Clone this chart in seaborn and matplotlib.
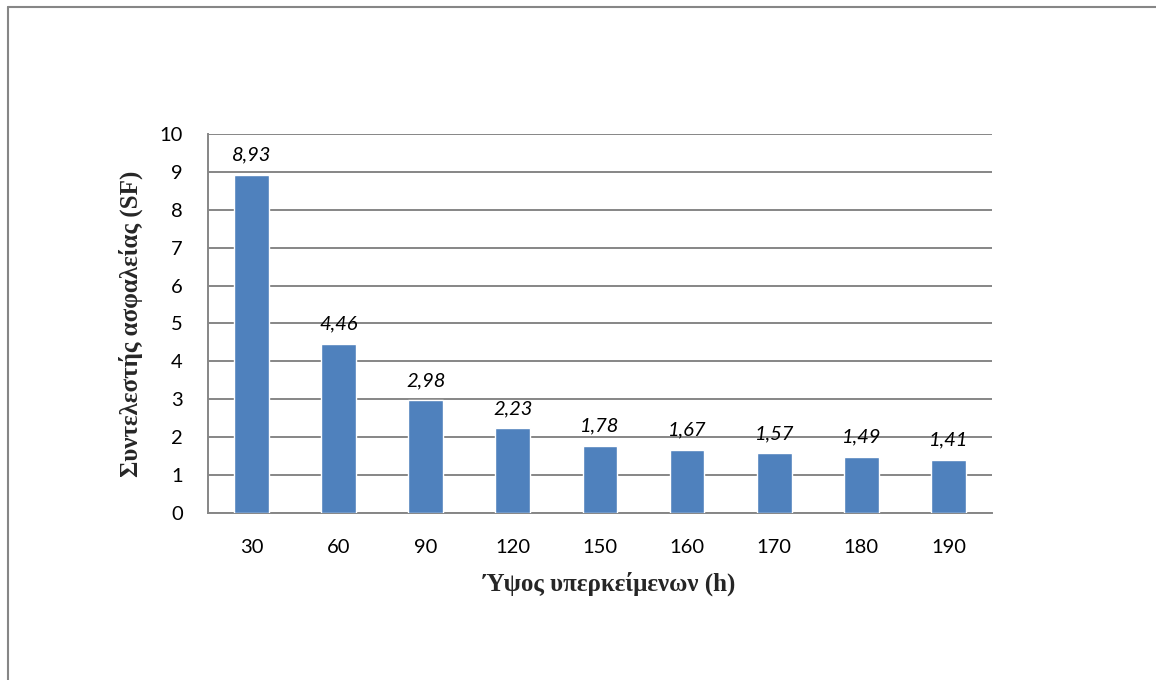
import matplotlib
matplotlib.use("Agg")
import matplotlib.pyplot as plt
from matplotlib.lines import Line2D
import seaborn as sns
import pandas as pd

# Overburden height (h) and resulting safety factor (SF)
heights = ["30", "60", "90", "120", "150", "160", "170", "180", "190"]
safety_factor = [8.93, 4.46, 2.98, 2.23, 1.78, 1.67, 1.57, 1.49, 1.41]
y_ticks = [0, 1, 2, 3, 4, 5, 6, 7, 8, 9, 10]

df = pd.DataFrame({"h": heights, "SF": safety_factor})

sns.set_theme(style="white")
plt.rcParams["font.family"] = ["Lato", "DejaVu Sans"]

fig = plt.figure(figsize=(11.56, 6.8), dpi=100)
ax = fig.add_axes([0.1799, 0.2456, 0.6782, 0.5574])

sns.barplot(data=df, x="h", y="SF", order=heights, color="#4F81BD",
            saturation=1, width=0.4, ax=ax, zorder=3)

ax.set_ylim(0, 10)
ax.set_xlim(-0.5, len(heights) - 0.5)
ax.set_yticks(y_ticks)
ax.set_yticklabels([str(t) for t in y_ticks], fontsize=14.5, color="black")
ax.set_xticklabels(heights, fontsize=14.5, color="black")
ax.tick_params(axis="x", length=0, pad=19)
ax.tick_params(axis="y", length=0, pad=18)

ax.yaxis.grid(True, color="#868686", linewidth=1.4, zorder=0)
ax.set_axisbelow(True)
for side in ["top", "right"]:
    ax.spines[side].set_visible(False)
for side in ["left", "bottom"]:
    ax.spines[side].set_color("#868686")
    ax.spines[side].set_linewidth(1.4)

# Value labels above each bar, decimal comma
for i, v in enumerate(safety_factor):
    ax.annotate(f"{v:.2f}".replace(".", ","), (i, v), xytext=(0, 8),
                textcoords="offset points", ha="center", va="bottom",
                fontsize=14.5, fontstyle="italic", color="black")

ax.set_xlabel("Ύψος υπερκείμενων (h)", fontsize=18, fontweight="bold",
              family=["Liberation Serif", "DejaVu Serif"], labelpad=11)
ax.xaxis.label.set_x(0.512)
ax.set_ylabel("Συντελεστής ασφαλείας (SF)", fontsize=18, fontweight="bold",
              family=["Liberation Serif", "DejaVu Serif"], labelpad=12)

# Outer chart frame
fig.add_artist(Line2D([7.5 / 1156, 7.5 / 1156], [0, 1 - 7 / 680],
                      transform=fig.transFigure, color="#868686", linewidth=1.5))
fig.add_artist(Line2D([7.5 / 1156, 1], [1 - 7 / 680, 1 - 7 / 680],
                      transform=fig.transFigure, color="#868686", linewidth=1.5))

fig.savefig("out.png", dpi=100, facecolor="white")
